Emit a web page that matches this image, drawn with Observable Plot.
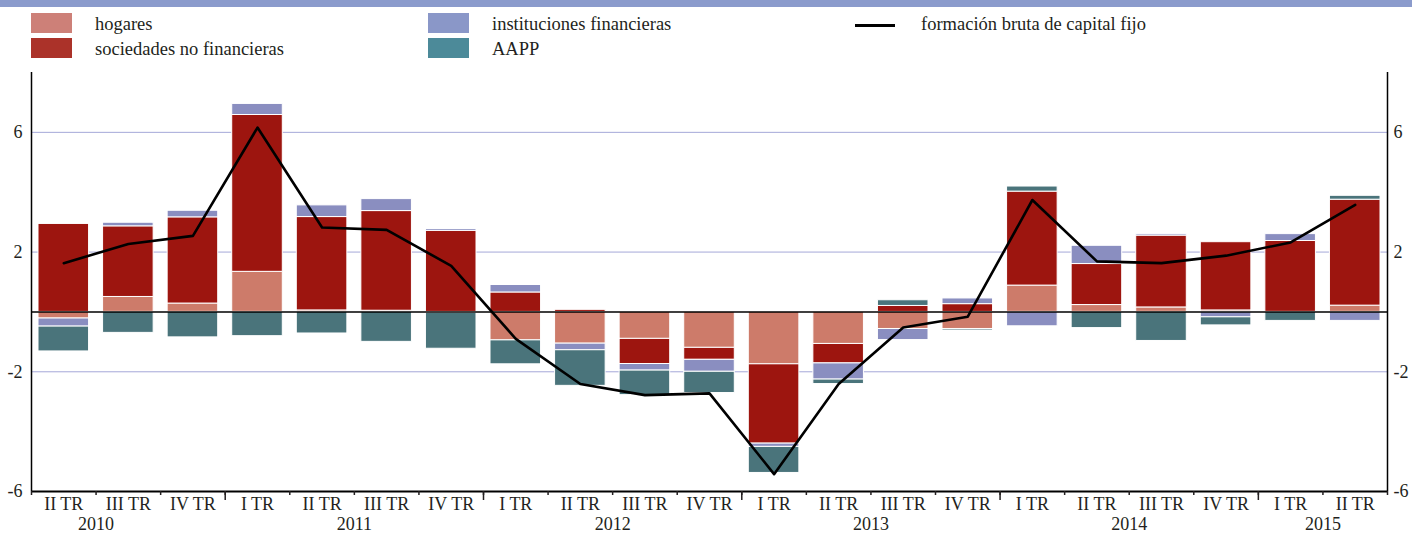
<!DOCTYPE html>
<html><head><meta charset="utf-8">
<script src="https://cdn.jsdelivr.net/npm/d3@7"></script>
<script src="https://cdn.jsdelivr.net/npm/@observablehq/plot@0.6"></script>
<style>
body{margin:0;background:#fff;font-family:"Liberation Serif","Times New Roman",serif;color:#231f20;}
#wrap{position:relative;width:1412px;height:533px;overflow:hidden;background:#fff}
#legend{position:relative;height:62px}
#strip{position:absolute;left:0;top:0;width:1412px;height:7px;background:#8b9bcc}
.sw{position:absolute;width:41px;height:20px}
.ln{position:absolute;width:40px;height:2.6px;background:#000}
.lt{position:absolute;font-size:18.5px;line-height:20px;white-space:nowrap;color:#231f20}
#chart svg{display:block}
</style></head>
<body><div id="wrap"><div id="legend"><div id="strip"></div></div><div id="chart"></div></div>
<script>
// categories
const quarters = ["II TR","III TR","IV TR","I TR","II TR","III TR","IV TR","I TR","II TR","III TR","IV TR","I TR","II TR","III TR","IV TR","I TR","II TR","III TR","IV TR","I TR","II TR"];
const years = ["2010","2011","2012","2013","2014","2015"];
const yearAt = [1, 5, 9, 13, 17, 20];          // quarter-index where each year label is centred
const yearStarts = [3, 7, 11, 15, 19];          // quarter-index boundaries between years
const yTicks = [6, 2, -2, -6];
const gridTicks = [6, 2, -2];

// series (contributions, percentage points)
const sectorNames = ["hogares", "sociedades no financieras", "instituciones financieras", "AAPP"];
const hogares =       [-0.22, 0.50, 0.28, 1.34, 0.05, 0.04, -0.03, -0.95, -1.06, -0.90, -1.20, -1.75, -1.07, -0.57, -0.57, 0.88, 0.23, 0.15, 0.05, 0.00, 0.21];
const sociedades =    [2.94, 2.36, 2.88, 5.24, 3.12, 3.33, 2.71, 0.65, 0.07, -0.84, -0.40, -2.65, -0.65, 0.20, 0.26, 3.14, 1.37, 2.40, 2.28, 2.37, 3.54];
const instituciones = [-0.27, 0.12, 0.22, 0.37, 0.39, 0.40, 0.06, 0.25, -0.22, -0.22, -0.40, -0.11, -0.54, -0.37, 0.19, -0.48, 0.61, 0.05, -0.18, 0.23, -0.30];
const aapp =          [-0.83, -0.70, -0.85, -0.81, -0.72, -1.00, -1.20, -0.80, -1.19, -0.82, -0.71, -0.87, -0.15, 0.19, -0.05, 0.17, -0.54, -0.97, -0.27, -0.30, 0.13];
const fbcf =          [1.63, 2.27, 2.54, 6.16, 2.82, 2.74, 1.54, -0.90, -2.41, -2.78, -2.72, -5.42, -2.41, -0.52, -0.16, 3.74, 1.69, 1.63, 1.88, 2.32, 3.58];
const lineName = "formación bruta de capital fijo";

// colours
const barColors = ["#cd7b6a", "#9d150f", "#8a8ec0", "#4a747b"];
const legendColors = ["#cd8078", "#ab3229", "#8a97c8", "#4c8a99"];

const series = [hogares, sociedades, instituciones, aapp];
const rows = [];
series.forEach((vals, k) => vals.forEach((v, i) => rows.push({i, sector: sectorNames[k], value: v})));
const lineRows = fbcf.map((v, i) => ({i, value: v}));
const quarterRows = quarters.map((q, i) => ({i, label: q}));
const yearRows = years.map((y, k) => ({year: y, pos: yearAt[k]}));

// legend
const legend = document.getElementById("legend");
const legendLayout = [
  {left: 31, top: 13}, {left: 31, top: 38}, {left: 428, top: 13}, {left: 428, top: 38}
];
sectorNames.forEach((name, k) => {
  const sw = document.createElement("div");
  sw.className = "sw"; sw.style.left = legendLayout[k].left + "px"; sw.style.top = legendLayout[k].top + "px";
  sw.style.background = legendColors[k];
  legend.appendChild(sw);
  const t = document.createElement("div");
  t.className = "lt"; t.textContent = name;
  t.style.left = (legendLayout[k].left + 64) + "px"; t.style.top = (legendLayout[k].top + 1) + "px";
  legend.appendChild(t);
});
const ln = document.createElement("div"); ln.className = "ln"; ln.style.left = "855px"; ln.style.top = "24px"; legend.appendChild(ln);
const lt = document.createElement("div"); lt.className = "lt"; lt.textContent = lineName; lt.style.left = "921px"; lt.style.top = "14px"; legend.appendChild(lt);

const fmt = d => String(d);
const chart = Plot.plot({
  width: 1412, height: 471,
  marginLeft: 31, marginRight: 25, marginTop: 10, marginBottom: 42,
  style: {fontFamily: '"Liberation Serif", "Times New Roman", serif', fontSize: "18px", color: "#231f20", background: "white", overflow: "visible"},
  x: {domain: [0, quarters.length]},
  y: {domain: [-6, 8]},
  color: {domain: sectorNames, range: barColors},
  marks: [
    Plot.gridY(gridTicks, {stroke: "#a5a8d8", strokeOpacity: 1, strokeWidth: 1}),
    Plot.rectY(rows, {x: "i", interval: 1, y: "value", fill: "sector", stroke: "white", strokeWidth: 1, insetLeft: 7, insetRight: 7}),
    Plot.ruleY([0], {stroke: "black", strokeWidth: 1.5}),
    Plot.line(lineRows, {x: d => d.i + 0.5, y: "value", stroke: "black", strokeWidth: 2.6}),
    Plot.ruleX([0, quarters.length], {stroke: "black", strokeWidth: 1.5}),
    Plot.ruleY([-6], {stroke: "black", strokeWidth: 2}),
    Plot.axisX(d3.range(0, quarters.length + 1), {tickSize: 4, tickFormat: () => "", label: null, strokeWidth: 1.5}),
    Plot.axisX(yearStarts, {tickSize: 9, tickFormat: () => "", label: null, strokeWidth: 1.5}),
    Plot.text(quarterRows, {x: d => d.i + 0.5, y: -6, dy: 6, lineAnchor: "top", text: "label"}),
    Plot.text(yearRows, {x: "pos", y: -6, dy: 26, lineAnchor: "top", text: "year"}),
    Plot.axisY(yTicks, {anchor: "left", tickSize: 0, tickPadding: 9, tickFormat: fmt, label: null}),
    Plot.axisY(yTicks, {anchor: "right", tickSize: 0, tickPadding: 6, tickFormat: fmt, label: null})
  ]
});
document.getElementById("chart").appendChild(chart);
</script>
</body></html>
